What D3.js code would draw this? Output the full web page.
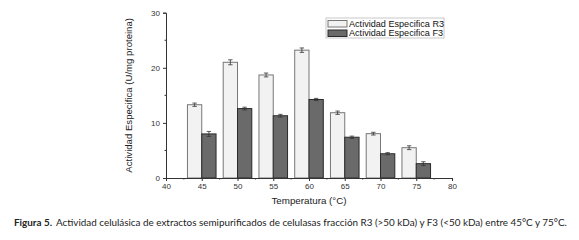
<!DOCTYPE html>
<html>
<head>
<meta charset="utf-8">
<script src="https://cdn.jsdelivr.net/npm/d3@7"></script>
<style>
  body { margin: 0; background: #fff; }
  .axis text { font-family: "Liberation Sans", Arial, sans-serif; font-size: 8px; fill: #333; }
  .axis path, .axis line { stroke: #333; }
</style>
</head>
<body>
<div id="chart"></div>
<script>
// data
var temps = [45, 50, 55, 60, 65, 70, 75];
var r3Vals = [13.3, 21.0, 18.7, 23.2, 11.85, 8.05, 5.5];
var r3Err = [0.3, 0.45, 0.35, 0.4, 0.3, 0.25, 0.35];
var f3Vals = [8.0, 12.6, 11.3, 14.25, 7.4, 4.4, 2.6];
var f3Err = [0.45, 0.25, 0.25, 0.2, 0.2, 0.2, 0.35];
var xTicks = [40, 45, 50, 55, 60, 65, 70, 75, 80];
var yTicks = [0, 10, 20, 30];
var seriesNames = ["Actividad Especifica R3", "Actividad Especifica F3"];
var captionBold = "Figura 5.";
var captionText = "Actividad celulásica de extractos semipurificados de celulasas fracción R3 (>50 kDa) y F3 (<50 kDa) entre 45°C y 75°C.";

var W = 579, H = 240;
var svg = d3.select("#chart").append("svg")
    .attr("width", W)
    .attr("height", H);

var x = d3.scaleLinear().domain([40, 80]).range([166, 452]);
var y = d3.scaleLinear().domain([0, 30]).range([178, 12.7]);
var barW = 2; // in x units

var series = [
    { vals: r3Vals, err: r3Err, fill: "#f2f2f2", stroke: "#777", off: -barW },
    { vals: f3Vals, err: f3Err, fill: "#6a6a6a", stroke: "#2a2a2a", off: 0 }
];

series.forEach(function(s) {
    var g = svg.append("g");
    g.selectAll("rect")
        .data(temps)
        .enter().append("rect")
        .attr("x", function(d) { return x(d + s.off); })
        .attr("width", x(40 + barW) - x(40))
        .attr("y", function(d, i) { return y(s.vals[i]); })
        .attr("height", function(d, i) { return y(0) - y(s.vals[i]); })
        .attr("fill", s.fill)
        .attr("stroke", s.stroke)
        .attr("stroke-width", 1);

    // error bars
    var eb = g.selectAll("g.err")
        .data(temps)
        .enter().append("g")
        .attr("class", "err")
        .attr("stroke", "#333")
        .attr("stroke-width", 0.8);
    eb.append("line")
        .attr("x1", function(d) { return x(d + s.off + barW / 2); })
        .attr("x2", function(d) { return x(d + s.off + barW / 2); })
        .attr("y1", function(d, i) { return y(s.vals[i] + s.err[i]); })
        .attr("y2", function(d, i) { return y(s.vals[i] - s.err[i]); });
    [1, -1].forEach(function(sign) {
        eb.append("line")
            .attr("x1", function(d) { return x(d + s.off + barW / 2) - 2.2; })
            .attr("x2", function(d) { return x(d + s.off + barW / 2) + 2.2; })
            .attr("y1", function(d, i) { return y(s.vals[i] + sign * s.err[i]); })
            .attr("y2", function(d, i) { return y(s.vals[i] + sign * s.err[i]); });
    });
});

// axes
var xAxis = d3.axisBottom(x).tickValues(xTicks).tickSize(3).tickPadding(2);
svg.append("g")
    .attr("class", "axis x-axis")
    .attr("transform", "translate(0," + y(0) + ")")
    .call(xAxis);

var yAxis = d3.axisLeft(y).tickValues(yTicks).tickSize(3).tickPadding(3);
svg.append("g")
    .attr("class", "axis y-axis")
    .attr("transform", "translate(" + x(40) + ",0)")
    .call(yAxis);

// minor ticks
svg.append("g").selectAll("line")
    .data(xTicks.slice(0, -1))
    .enter().append("line")
    .attr("x1", function(d) { return x(d + 2.5); })
    .attr("x2", function(d) { return x(d + 2.5); })
    .attr("y1", y(0))
    .attr("y2", y(0) + 1.5)
    .attr("stroke", "#333");
svg.append("g").selectAll("line")
    .data(yTicks.slice(0, -1))
    .enter().append("line")
    .attr("x1", x(40))
    .attr("x2", x(40) - 1.5)
    .attr("y1", function(d) { return y(d + 5); })
    .attr("y2", function(d) { return y(d + 5); })
    .attr("stroke", "#333");

// axis titles
svg.append("text")
    .attr("x", (x(40) + x(80)) / 2)
    .attr("y", 204)
    .attr("text-anchor", "middle")
    .style("font-family", "Liberation Sans, Arial, sans-serif")
    .style("font-size", "9.8px")
    .attr("fill", "#222")
    .text("Temperatura (°C)");

svg.append("text")
    .attr("transform", "translate(132," + ((y(0) + y(30)) / 2) + ") rotate(-90)")
    .attr("text-anchor", "middle")
    .style("font-family", "Liberation Sans, Arial, sans-serif")
    .style("font-size", "9.6px")
    .attr("fill", "#222")
    .text("Actividad Especifica (U/mg proteina)");

// legend
var leg = svg.append("g").attr("transform", "translate(326,18)");
leg.append("rect")
    .attr("width", 118).attr("height", 20)
    .attr("fill", "#fff").attr("stroke", "#bbb").attr("stroke-width", 0.8);
series.forEach(function(s, i) {
    leg.append("rect")
        .attr("x", 2).attr("y", 2.5 + i * 9.5)
        .attr("width", 19).attr("height", 6.5)
        .attr("fill", s.fill).attr("stroke", s.stroke);
    leg.append("text")
        .attr("x", 23).attr("y", 8.8 + i * 9.5)
        .style("font-family", "Liberation Sans, Arial, sans-serif")
        .style("font-size", "9.1px")
        .attr("fill", "#111")
        .text(seriesNames[i]);
});

// caption
var cap = svg.append("text")
    .attr("x", 14)
    .attr("y", 226)
    .style("font-family", "Lato, 'Open Sans', sans-serif")
    .style("font-size", "9.9px")
    .attr("fill", "#222");
cap.append("tspan").style("font-weight", "bold").text(captionBold);
cap.append("tspan").attr("dx", 4).text(captionText);
</script>
</body>
</html>
